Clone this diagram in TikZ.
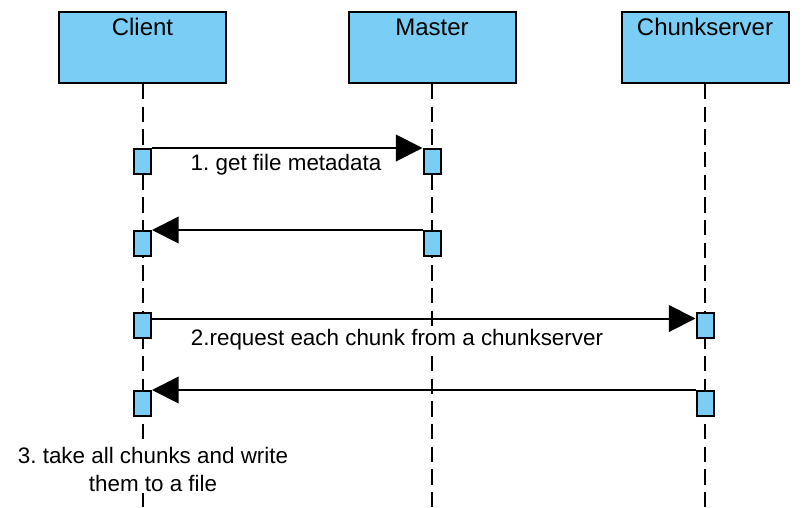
\documentclass[tikz,border=0pt]{standalone}
\usepackage{fontspec}
\setmainfont{Liberation Sans}
\usetikzlibrary{arrows.meta,calc}
\definecolor{actfill}{RGB}{122,206,245}
\frenchspacing
\begin{document}
\begin{tikzpicture}[x=0.75pt,y=-0.75pt,
  head/.style={draw=black, fill=actfill, line width=1.5pt, minimum width=125.25pt, minimum height=53.25pt, inner sep=0pt},
  headtxt/.style={font=\fontsize{18}{22}\selectfont, inner sep=0pt, anchor=base},
  act/.style={draw=black, fill=actfill, line width=1.5pt, minimum width=12.75pt, minimum height=18.75pt, inner sep=0pt},
  life/.style={line width=1.5pt, dash pattern=on 11.5pt off 5.5pt},
  msg/.style={line width=1.5pt, -{Triangle[length=20pt,width=20pt]}},
  lbl/.style={font=\fontsize{16.8}{21.3}\selectfont\frenchspacing, fill=white, inner sep=1pt}]
\useasboundingbox (0,0) rectangle (803,507);
% headers
\node[head] (client) at (142.5,47.5) {};
\node[head] (master) at (432,47.5) {};
\node[head] (chunk) at (705,47.5) {};
\node[headtxt] (clientlbl) at (142.5,35) {Client};
\node[headtxt] (masterlbl) at (432,35) {Master};
\node[headtxt] (chunklbl) at (705,35) {Chunkserver};
% lifeline ends
\coordinate (cEnd) at (142.5,507);
\coordinate (mEnd) at (432,507);
\coordinate (sEnd) at (705,507);
\draw[life] (client.south) -- (cEnd);
\draw[life] (master.south) -- (mEnd);
\draw[life] (chunk.south) -- (sEnd);
% activations
\node[act] (cA1) at (142.5,161.5) {};
\node[act] (cA2) at (142.5,243.5) {};
\node[act] (cA3) at (142.5,325) {};
\node[act] (cA4) at (142.5,403.5) {};
\node[act] (mA1) at (432,161.5) {};
\node[act] (mA2) at (432,243.5) {};
\node[act] (sA3) at (705,325) {};
\node[act] (sA4) at (705,403.5) {};
% messages
\draw[msg] (cA1.north east) -- (mA1.north west);
\draw[msg] (mA2.north west) -- (cA2.north east);
\draw[msg] ($(cA3.north east)+(0,7)$) -- ($(sA3.north west)+(0,7)$);
\draw[msg] (sA4.north west) -- (cA4.north east);
% labels
\node[lbl, anchor=base] (l1) at (286,170) {1. get file metadata};
\node[lbl, anchor=base] (l2) at (397,345) {2.request each chunk from a chunkserver};
\node[lbl, align=center] (l3) at (153,469.5) {3. take all chunks and write\\them to a file};
\end{tikzpicture}
\end{document}
